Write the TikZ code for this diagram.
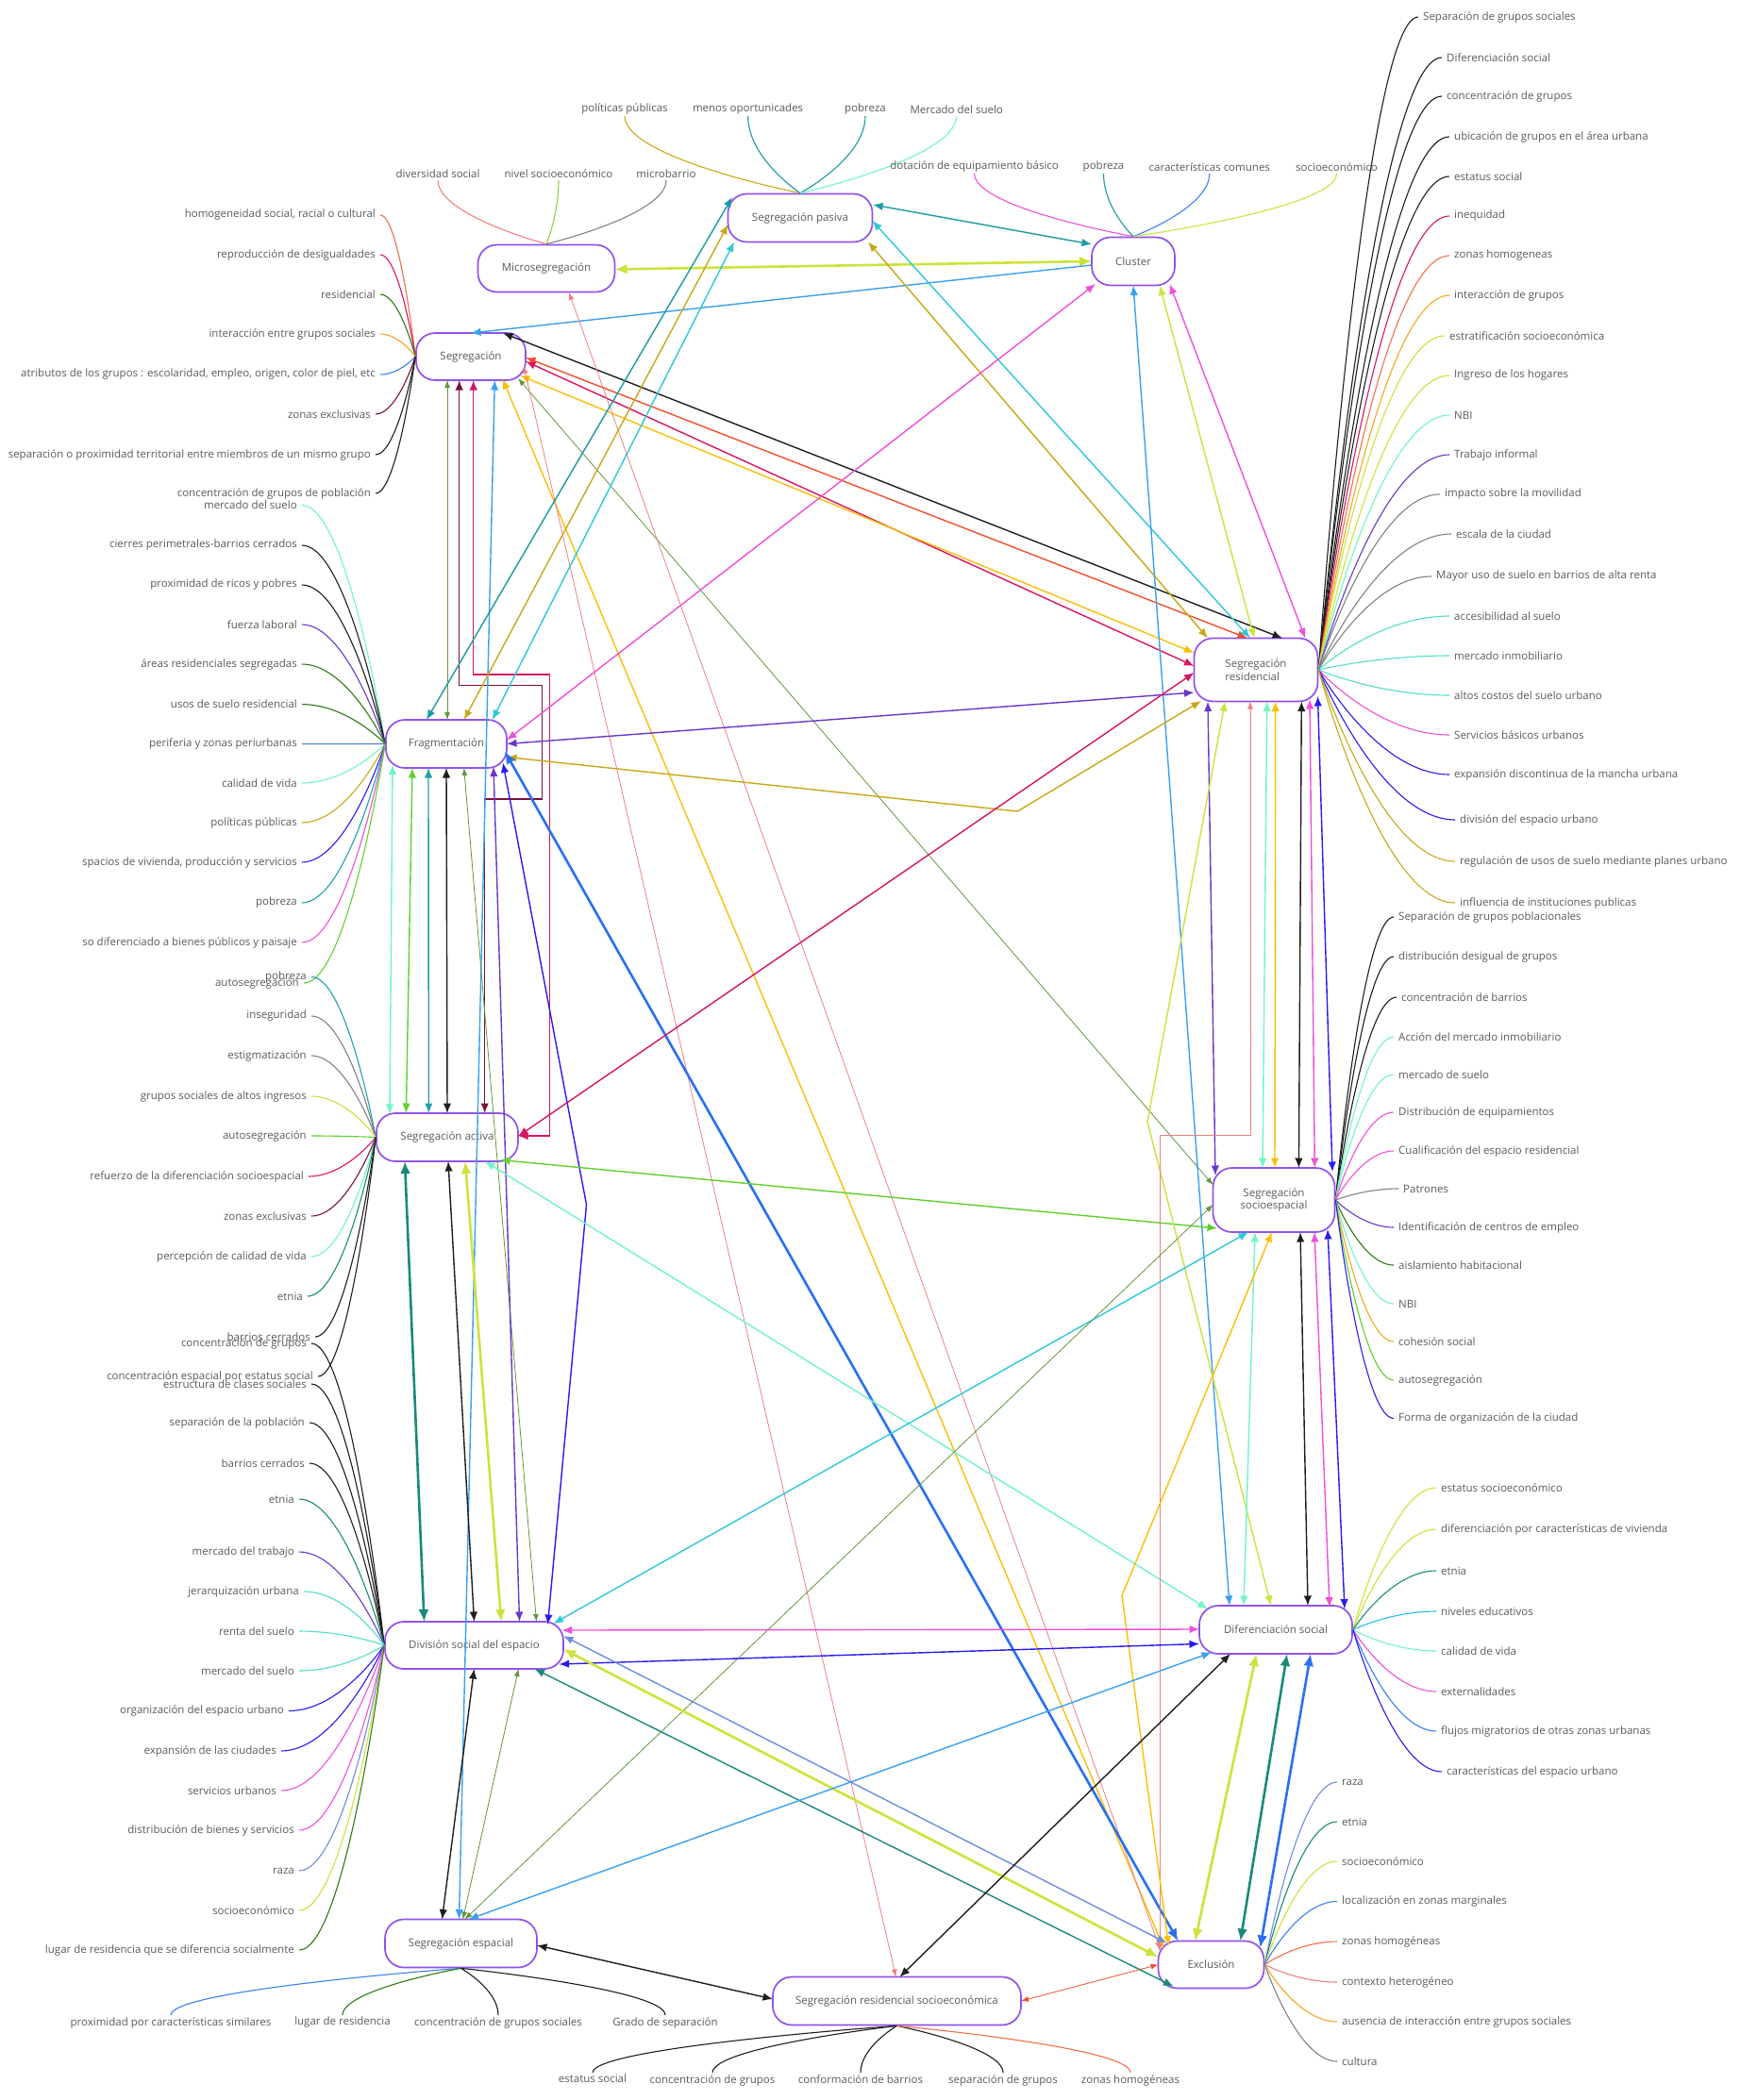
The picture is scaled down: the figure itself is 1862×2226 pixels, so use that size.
\documentclass[tikz,border=0pt]{standalone}
\usepackage{fontspec}
\setmainfont{Open Sans}
\usetikzlibrary{arrows.meta,calc}
\definecolor{nodeb}{RGB}{145,82,235}
\definecolor{txt}{RGB}{90,90,90}
\definecolor{cTeal}{RGB}{26,155,160}
\definecolor{cYG}{RGB}{206,226,60}
\definecolor{cLBlue}{RGB}{58,160,240}
\definecolor{cBlk}{RGB}{30,30,30}
\definecolor{cOR}{RGB}{240,80,45}
\definecolor{cCrim}{RGB}{214,20,100}
\definecolor{cYel}{RGB}{248,192,10}
\definecolor{cOlive}{RGB}{100,150,60}
\definecolor{cMaroon}{RGB}{122,16,56}
\definecolor{cGold}{RGB}{200,168,24}
\definecolor{cCyan}{RGB}{46,200,216}
\definecolor{cMag}{RGB}{240,80,216}
\definecolor{cPurp}{RGB}{106,56,200}
\definecolor{cBlue}{RGB}{42,112,240}
\definecolor{cAqua}{RGB}{112,245,200}
\definecolor{cGreen}{RGB}{96,208,48}
\definecolor{cTeal2}{RGB}{32,160,176}
\definecolor{cBV}{RGB}{42,26,240}
\definecolor{cDTeal}{RGB}{26,138,120}
\definecolor{cSlate}{RGB}{112,140,220}
\definecolor{cSalmon}{RGB}{240,128,128}
\definecolor{cAmber}{RGB}{245,166,35}
\definecolor{cDGreen}{RGB}{46,122,18}
\definecolor{cGray}{RGB}{130,130,130}
\definecolor{cTurq}{RGB}{80,224,200}
\definecolor{cOrange}{RGB}{240,112,72}
\definecolor{cLGreen}{RGB}{144,208,80}
\definecolor{cBlue2}{RGB}{58,128,240}
\definecolor{cSteel}{RGB}{74,128,216}
\definecolor{cCyan2}{RGB}{32,192,240}
\newcommand{\leafh}[3]{\path (#3) -- coordinate[pos=0.55] (lfa) (#2); \draw[leafl,#1] (#2) .. controls (#2) and (lfa |- #3) .. (#3);}
\newcommand{\leafv}[3]{\path (#3) -- coordinate[pos=0.55] (lfa) (#2); \draw[leafl,#1] (#2) .. controls (#2) and (#3 |- lfa) .. (#3);}
\newcommand{\lfW}[6]{\node[lbl,anchor=east] (#1) at (#3,#4) {#6}; \leafh{#5}{#2}{#1.east}}
\newcommand{\lfE}[6]{\node[lbl,anchor=west] (#1) at (#3,#4) {#6}; \leafh{#5}{#2}{#1.west}}
\newcommand{\lfN}[6]{\node[lbl,anchor=south] (#1) at (#3,#4) {#6}; \leafv{#5}{#2}{#1.south}}
\newcommand{\lfS}[6]{\node[lbl,anchor=north] (#1) at (#3,#4) {#6}; \leafv{#5}{#2}{#1.north}}
\begin{document}
\begin{tikzpicture}[x=1pt,y=-1pt,
 every node/.style={font=\fontsize{11.5}{13.8}\selectfont, text=txt},
 box/.style={draw=nodeb, line width=1.7pt, rounded corners=20pt, fill=white, align=center, inner sep=0pt},
 lbl/.style={inner xsep=5pt, inner ysep=2pt},
 leafl/.style={line width=1.1pt},
 cn/.style={line width=1.4pt,>={Latex[length=10.5pt,width=8.5pt]},<->},
 cnk/.style={line width=2.6pt,>={Latex[length=13pt,width=11pt]},<->},
 cnt/.style={line width=0.8pt,>={Latex[length=8pt,width=6pt]},<->}]
\fill[white] (0,0) rectangle (1862,2226);
\useasboundingbox (0,0) rectangle (1862,2226);

% ---------------- main nodes
\node[box, minimum width=145pt, minimum height=50pt] (Micro) at (579,284.5) {Microsegregación};
\node[box, minimum width=153pt, minimum height=51pt] (Pasiva) at (848,231) {Segregación pasiva};
\node[box, minimum width=88pt, minimum height=51pt] (Cluster) at (1201,277) {Cluster};
\node[box, minimum width=116pt, minimum height=50pt] (Seg) at (499,378) {Segregación};
\node[box, minimum width=128pt, minimum height=51pt] (Frag) at (473,788.5) {Fragmentación};
\node[box, minimum width=131pt, minimum height=67pt, align=left] (SegRes) at (1331,710) {Segregación\\residencial};
\node[box, minimum width=150pt, minimum height=51pt] (Activa) at (474,1205.5) {Segregación activa};
\node[box, minimum width=129pt, minimum height=68pt] (Socio) at (1350,1272) {Segregación\\socioespacial};
\node[box, minimum width=189pt, minimum height=50pt] (Div) at (502.5,1744) {División social del espacio};
\node[box, minimum width=162pt, minimum height=51pt] (Dif) at (1352,1727.5) {Diferenciación social};
\node[box, minimum width=161pt, minimum height=51pt] (Esp) at (488.5,2060) {Segregación espacial};
\node[box, minimum width=112pt, minimum height=50pt] (Excl) at (1283.5,2082.5) {Exclusión};
\node[box, minimum width=263pt, minimum height=51pt] (SRS) at (950.5,2121) {Segregación residencial socioeconómica};

% ---------------- leaves: Segregación pasiva
\lfN{pa1}{Pasiva.north}{662}{123}{cGold}{políticas públicas}
\lfN{pa2}{Pasiva.north}{792.6}{123}{cTeal}{menos oportunicades}
\lfN{pa3}{Pasiva.north}{917}{123}{cTeal}{pobreza}
\lfN{pa4}{Pasiva.north}{1013.7}{123}{cAqua}{Mercado del suelo}
% Microsegregación
\lfN{mi1}{Micro.north}{464}{191}{cSalmon}{diversidad social}
\lfN{mi2}{Micro.north}{592}{191}{cLGreen}{nivel socioeconómico}
\lfN{mi3}{Micro.north}{706}{191}{cGray}{microbarrio}
% Cluster
\lfN{cl1}{Cluster.north}{1032.6}{184}{cMag}{dotación de equipamiento básico}
\lfN{cl2}{Cluster.north}{1169.5}{184}{cTeal}{pobreza}
\lfN{cl3}{Cluster.north}{1281.8}{184}{cBlue2}{características comunes}
\lfN{cl4}{Cluster.north}{1416.5}{184}{cYG}{socioeconómico}
% Segregación
\lfW{sg1}{Seg.west}{403}{228}{cOrange}{homogeneidad social, racial o cultural}
\lfW{sg2}{Seg.west}{403}{270}{cCrim}{reproducción de desigualdades}
\lfW{sg3}{Seg.west}{403}{312}{cDGreen}{residencial}
\lfW{sg4}{Seg.west}{403}{354}{cAmber}{interacción entre grupos sociales}
\lfW{sg5}{Seg.west}{403}{397}{cBlue2}{atributos de los grupos : escolaridad, empleo, origen, color de piel, etc}
\lfW{sg6}{Seg.west}{398}{439}{cMaroon}{zonas exclusivas}
\lfW{sg7}{Seg.west}{398}{482}{cBlk}{separación o proximidad territorial entre miembros de un mismo grupo}
\lfW{sg8}{Seg.west}{398}{523}{cBlk}{concentración de grupos de población}
% Fragmentación
\lfW{fr1}{Frag.west}{320}{535.5}{cAqua}{mercado del suelo}
\lfW{fr2}{Frag.west}{320}{578}{cBlk}{cierres perimetrales-barrios cerrados}
\lfW{fr3}{Frag.west}{320}{620}{cBlk}{proximidad de ricos y pobres}
\lfW{fr4}{Frag.west}{320}{662}{cPurp}{fuerza laboral}
\lfW{fr5}{Frag.west}{320}{704}{cDGreen}{áreas residenciales segregadas}
\lfW{fr6}{Frag.west}{320}{746.6}{cDGreen}{usos de suelo residencial}
\lfW{fr7}{Frag.west}{320}{788.6}{cSteel}{periferia y zonas periurbanas}
\lfW{fr8}{Frag.west}{320}{830}{cAqua}{calidad de vida}
\lfW{fr9}{Frag.west}{320}{872}{cGold}{políticas públicas}
\lfW{fr10}{Frag.west}{320}{914}{cBV}{spacios de vivienda, producción y servicios}
\lfW{fr11}{Frag.west}{320}{957}{cTeal2}{pobreza}
\lfW{fr12}{Frag.west}{320}{999}{cMag}{so diferenciado a bienes públicos y paisaje}
\lfW{fr13}{Frag.west}{322}{1042}{cGreen}{autosegregación}
% Segregación activa
\lfW{ac1}{Activa.west}{330}{1035.5}{cTeal2}{pobreza}
\lfW{ac2}{Activa.west}{330}{1077}{cGray}{inseguridad}
\lfW{ac3}{Activa.west}{330}{1119}{cGray}{estigmatización}
\lfW{ac4}{Activa.west}{330}{1162}{cYG}{grupos sociales de altos ingresos}
\lfW{ac5}{Activa.west}{330}{1204}{cGreen}{autosegregación}
\lfW{ac6}{Activa.west}{327}{1247}{cCrim}{refuerzo de la diferenciación socioespacial}
\lfW{ac7}{Activa.west}{330}{1289}{cMaroon}{zonas exclusivas}
\lfW{ac8}{Activa.west}{330}{1332}{cAqua}{percepción de calidad de vida}
\lfW{ac9}{Activa.west}{326}{1374}{cDTeal}{etnia}
\lfW{ac10}{Activa.west}{334}{1417}{cBlk}{barrios cerrados}
\lfW{ac11}{Activa.west}{337}{1459}{cBlk}{concentración espacial por estatus social}
% División social del espacio
\lfW{dv1}{Div.west}{330}{1424}{cBlk}{concentración de grupos}
\lfW{dv2}{Div.west}{330}{1467}{cBlk}{estructura de clases sociales}
\lfW{dv3}{Div.west}{328}{1508}{cBlk}{separación de la población}
\lfW{dv4}{Div.west}{328}{1551}{cBlk}{barrios cerrados}
\lfW{dv5}{Div.west}{317}{1589}{cDTeal}{etnia}
\lfW{dv6}{Div.west}{317}{1645}{cPurp}{mercado del trabajo}
\lfW{dv7}{Div.west}{322}{1687}{cTurq}{jerarquización urbana}
\lfW{dv8}{Div.west}{317}{1729}{cTurq}{renta del suelo}
\lfW{dv9}{Div.west}{317}{1771}{cTurq}{mercado del suelo}
\lfW{dv10}{Div.west}{306}{1813.5}{cBV}{organización del espacio urbano}
\lfW{dv11}{Div.west}{298}{1856}{cBV}{expansión de las ciudades}
\lfW{dv12}{Div.west}{298}{1898}{cMag}{servicios urbanos}
\lfW{dv13}{Div.west}{317}{1940}{cMag}{distribución de bienes y servicios}
\lfW{dv14}{Div.west}{317}{1983}{cSlate}{raza}
\lfW{dv15}{Div.west}{317}{2025}{cYG}{socioeconómico}
\lfW{dv16}{Div.west}{317}{2067}{cDGreen}{lugar de residencia que se diferencia socialmente}
% Segregación espacial
\lfS{es1}{Esp.south}{181}{2136}{cBlue2}{proximidad por características similares}
\lfS{es2}{Esp.south}{363}{2136}{cDGreen}{lugar de residencia}
\lfS{es3}{Esp.south}{528}{2136}{cBlk}{concentración de grupos sociales}
\lfS{es4}{Esp.south}{705}{2136}{cBlk}{Grado de separación}
% Segregación residencial socioeconómica
\lfS{sr1}{SRS.south}{628}{2197}{cBlk}{estatus social}
\lfS{sr2}{SRS.south}{755}{2197}{cBlk}{concentración de grupos}
\lfS{sr3}{SRS.south}{912}{2197}{cBlk}{conformación de barrios}
\lfS{sr4}{SRS.south}{1063}{2197}{cBlk}{separación de grupos}
\lfS{sr5}{SRS.south}{1198}{2197}{cOrange}{zonas homogéneas}
% Segregación residencial
\lfE{rs1}{SegRes.east}{1503}{18}{cBlk}{Separación de grupos sociales}
\lfE{rs2}{SegRes.east}{1528}{61}{cBlk}{Diferenciación social}
\lfE{rs3}{SegRes.east}{1528}{102}{cBlk}{concentración de grupos}
\lfE{rs4}{SegRes.east}{1536}{145}{cBlk}{ubicación de grupos en el área urbana}
\lfE{rs5}{SegRes.east}{1536}{187}{cBlk}{estatus social}
\lfE{rs6}{SegRes.east}{1536}{229}{cCrim}{inequidad}
\lfE{rs7}{SegRes.east}{1536}{271}{cOrange}{zonas homogeneas}
\lfE{rs8}{SegRes.east}{1536}{313}{cAmber}{interacción de grupos}
\lfE{rs9}{SegRes.east}{1531}{356}{cYG}{estratificación socioeconómica}
\lfE{rs10}{SegRes.east}{1536}{398}{cYG}{Ingreso de los hogares}
\lfE{rs11}{SegRes.east}{1536}{440}{cAqua}{NBI}
\lfE{rs12}{SegRes.east}{1536}{482}{cPurp}{Trabajo informal}
\lfE{rs13}{SegRes.east}{1526}{524}{cGray}{impacto sobre la movilidad}
\lfE{rs14}{SegRes.east}{1538}{566}{cGray}{escala de la ciudad}
\lfE{rs15}{SegRes.east}{1517}{611}{cGray}{Mayor uso de suelo en barrios de alta renta}
\lfE{rs16}{SegRes.east}{1536}{653}{cTurq}{accesibilidad al suelo}
\lfE{rs17}{SegRes.east}{1536}{695}{cTurq}{mercado inmobiliario}
\lfE{rs18}{SegRes.east}{1536}{737}{cTurq}{altos costos del suelo urbano}
\lfE{rs19}{SegRes.east}{1536}{779}{cMag}{Servicios básicos urbanos}
\lfE{rs20}{SegRes.east}{1536}{821}{cBV}{expansión discontinua de la mancha urbana}
\lfE{rs21}{SegRes.east}{1542}{869}{cBV}{división del espacio urbano}
\lfE{rs22}{SegRes.east}{1542}{913}{cGold}{regulación de usos de suelo mediante planes urbano}
\lfE{rs23}{SegRes.east}{1542}{957}{cGold}{influencia de instituciones publicas}
% Segregación socioespacial
\lfE{so1}{Socio.east}{1477}{972}{cBlk}{Separación de grupos poblacionales}
\lfE{so2}{Socio.east}{1477}{1014}{cBlk}{distribución desigual de grupos}
\lfE{so3}{Socio.east}{1480}{1057}{cBlk}{concentración de barrios}
\lfE{so4}{Socio.east}{1477}{1099}{cAqua}{Acción del mercado inmobiliario}
\lfE{so5}{Socio.east}{1477}{1139}{cAqua}{mercado de suelo}
\lfE{so6}{Socio.east}{1477}{1179}{cMag}{Distribución de equipamientos}
\lfE{so7}{Socio.east}{1477}{1220}{cMag}{Cualificación del espacio residencial}
\lfE{so8}{Socio.east}{1482}{1260}{cGray}{Patrones}
\lfE{so9}{Socio.east}{1477}{1301}{cPurp}{Identificación de centros de empleo}
\lfE{so10}{Socio.east}{1477}{1341}{cDGreen}{aislamiento habitacional}
\lfE{so11}{Socio.east}{1477}{1382}{cAqua}{NBI}
\lfE{so12}{Socio.east}{1477}{1422}{cAmber}{cohesión social}
\lfE{so13}{Socio.east}{1477}{1463}{cGreen}{autosegregación}
\lfE{so14}{Socio.east}{1477}{1503.5}{cBV}{Forma de organización de la ciudad}
% Diferenciación social
\lfE{df1}{Dif.east}{1522}{1577}{cYG}{estatus socioeconómico}
\lfE{df2}{Dif.east}{1522}{1621}{cYG}{diferenciación por características de vivienda}
\lfE{df3}{Dif.east}{1522}{1665}{cDTeal}{etnia}
\lfE{df4}{Dif.east}{1522}{1708}{cCyan2}{niveles educativos}
\lfE{df5}{Dif.east}{1522}{1750}{cAqua}{calidad de vida}
\lfE{df6}{Dif.east}{1522}{1793}{cMag}{externalidades}
\lfE{df7}{Dif.east}{1522}{1835}{cBlue2}{flujos migratorios de otras zonas urbanas}
\lfE{df8}{Dif.east}{1528}{1878}{cBV}{características del espacio urbano}
% Exclusión
\lfE{ex1}{Excl.east}{1417}{1889}{cSlate}{raza}
\lfE{ex2}{Excl.east}{1417}{1931}{cDTeal}{etnia}
\lfE{ex3}{Excl.east}{1417}{1973}{cYG}{socioeconómico}
\lfE{ex4}{Excl.east}{1417}{2015.5}{cBlue2}{localización en zonas marginales}
\lfE{ex5}{Excl.east}{1417}{2058}{cOrange}{zonas homogéneas}
\lfE{ex6}{Excl.east}{1417}{2101}{cSalmon}{contexto heterogéneo}
\lfE{ex7}{Excl.east}{1417}{2143}{cAmber}{ausencia de interacción entre grupos sociales}
\lfE{ex8}{Excl.east}{1417}{2185}{cGray}{cultura}

% ---------------- connectors
\draw[cn,cTeal] ([shift={(77,-14)}]Pasiva.center) -- ([shift={(-44,-18)}]Cluster.center);
\draw[cnk,cYG] ([shift={(72.5,1)}]Micro.center) -- ([shift={(-44,0)}]Cluster.center);
\draw[cn,->,cLBlue] ([shift={(-44,4)}]Cluster.center) -- ([shift={(0,-25)}]Seg.center);
\draw[cn,cBlk] ([shift={(34,-25)}]Seg.center) -- ([shift={(28,-33.5)}]SegRes.center);
\draw[cn,cOR] ([shift={(58,1)}]Seg.center) -- ([shift={(-9,-33.5)}]SegRes.center);
\draw[cn,cCrim] ([shift={(58,5)}]Seg.center) -- ([shift={(-65.5,-4)}]SegRes.center);
\draw[cn,cYel] ([shift={(52,20)}]Seg.center) -- ([shift={(-65.5,-18)}]SegRes.center);
\draw[cnt,cOlive] ([shift={(-25,25)}]Seg.center) -- ([shift={(1,-25.5)}]Frag.center);
\draw[cn,cMaroon] ([shift={(-12.3,25)}]Seg.center) -- (486.7,726.7) -- (574.3,726.7) -- (574.3,847) -- (513.7,847) -- ([shift={(39.7,-25.5)}]Activa.center);
\draw[cn,cCrim] ([shift={(2.7,25)}]Seg.center) -- (501.7,715) -- (582.7,715) -- (582.7,1204) -- ([shift={(75,-1.5)}]Activa.center);
\draw[cn,cLBlue] ([shift={(25.3,25)}]Seg.center) -- ([shift={(-2,-25.5)}]Esp.center);
\draw[cn,cYel] ([shift={(33.7,24)}]Seg.center) -- ([shift={(-50,-17)}]Excl.center);
\draw[cnt,cOlive] ([shift={(50,23)}]Seg.center) -- ([shift={(-64.5,-16)}]Socio.center);
\draw[cnt,cSalmon] ([shift={(24,25.5)}]Micro.center) -- ([shift={(-54,-16)}]Excl.center);
\draw[cnt,cSalmon] ([shift={(56,10)}]Seg.center) -- ([shift={(-1,-25.5)}]SRS.center);
\draw[cn,cTeal] ([shift={(-72,-22)}]Pasiva.center) -- ([shift={(-21,-25.5)}]Frag.center);
\draw[cn,cGold] ([shift={(-76.5,7)}]Pasiva.center) -- ([shift={(18.7,-25.5)}]Frag.center);
\draw[cn,cCyan] ([shift={(-70,25.5)}]Pasiva.center) -- ([shift={(48.7,-25.5)}]Frag.center);
\draw[cn,cGold] ([shift={(72,25.5)}]Pasiva.center) -- ([shift={(-51,-33.5)}]SegRes.center);
\draw[cn,cCyan] ([shift={(76.5,3)}]Pasiva.center) -- ([shift={(-6,-33.5)}]SegRes.center);
\draw[cn,cYG] ([shift={(28,25.5)}]Cluster.center) -- ([shift={(-1.7,-33.5)}]SegRes.center);
\draw[cn,cMag] ([shift={(38.6,24)}]Cluster.center) -- ([shift={(52.3,-33.5)}]SegRes.center);
\draw[cn,cMag] ([shift={(-40,24)}]Cluster.center) -- ([shift={(64,-4)}]Frag.center);
\draw[cn,cLBlue] ([shift={(0,25.5)}]Cluster.center) -- ([shift={(-49,-25.5)}]Dif.center);
\draw[cn,cPurp] ([shift={(64,0)}]Frag.center) -- ([shift={(-65.5,24)}]SegRes.center);
\draw[cn,cGold] ([shift={(64,14)}]Frag.center) -- (1078.4,860) -- ([shift={(-58,33)}]SegRes.center);
\draw[cnk,cBlue] ([shift={(62,8)}]Frag.center) -- ([shift={(-35,-25)}]Excl.center);
\draw[cn,cAqua] ([shift={(-57,22)}]Frag.center) -- ([shift={(-61,-24.5)}]Activa.center);
\draw[cn,cGreen] ([shift={(-36,25.5)}]Frag.center) -- ([shift={(-43.6,-25.5)}]Activa.center);
\draw[cn,cTeal2] ([shift={(-19,25.5)}]Frag.center) -- ([shift={(-19.7,-25.5)}]Activa.center);
\draw[cn,cBlk] ([shift={(0,25.5)}]Frag.center) -- ([shift={(0,-25.5)}]Activa.center);
\draw[cnt,cOlive] ([shift={(18.7,25.5)}]Frag.center) -- ([shift={(66,-25)}]Div.center);
\draw[cn,cPurp] ([shift={(50,24)}]Frag.center) -- ([shift={(48,-25)}]Div.center);
\draw[cn,cBV] ([shift={(60,20)}]Frag.center) -- (621.5,1277) -- ([shift={(78,-22)}]Div.center);
\draw[cnk,cDTeal] ([shift={(-45,25.5)}]Activa.center) -- ([shift={(-53,-25)}]Div.center);
\draw[cn,cBlk] ([shift={(1,25.5)}]Activa.center) -- ([shift={(0,-25)}]Div.center);
\draw[cnk,cYG] ([shift={(19,25.5)}]Activa.center) -- ([shift={(28.7,-25)}]Div.center);
\draw[cn,cGreen] ([shift={(56,24)}]Activa.center) -- ([shift={(-60,30)}]Socio.center);
\draw[cn,cAqua] ([shift={(40,25.5)}]Activa.center) -- ([shift={(-72,-22)}]Dif.center);
\draw[cn,cCrim] ([shift={(-65.5,3)}]SegRes.center) -- ([shift={(75,-1)}]Activa.center);
\draw[cn,cPurp] ([shift={(-51,33.5)}]SegRes.center) -- ([shift={(-62,-26)}]Socio.center);
\draw[cn,cYG] ([shift={(-32.7,33.5)}]SegRes.center) -- (1216,1189) -- ([shift={(-5,-25.5)}]Dif.center);
\draw[cnt,cSalmon] ([shift={(-6,33.5)}]SegRes.center) -- (1325,1203.3) -- (1228.9,1203.3) -- ([shift={(-54.6,-14)}]Excl.center);
\draw[cn,cAqua] ([shift={(11.7,33.5)}]SegRes.center) -- ([shift={(-12,-34)}]Socio.center);
\draw[cn,cYel] ([shift={(20.7,33.5)}]SegRes.center) -- ([shift={(1,-34)}]Socio.center);
\draw[cn,cBlk] ([shift={(48.3,33.5)}]SegRes.center) -- ([shift={(26.4,-34)}]Socio.center);
\draw[cn,cMag] ([shift={(57,31)}]SegRes.center) -- ([shift={(43.3,-34)}]Socio.center);
\draw[cn,cBV] ([shift={(65.5,28)}]SegRes.center) -- ([shift={(62,-30)}]Socio.center);
\draw[cn,cAqua] ([shift={(-20,34)}]Socio.center) -- ([shift={(-34,-25.5)}]Dif.center);
\draw[cn,cBlk] ([shift={(28,34)}]Socio.center) -- ([shift={(34,-25.5)}]Dif.center);
\draw[cn,cMag] ([shift={(43,34)}]Socio.center) -- ([shift={(57,-24)}]Dif.center);
\draw[cn,cBV] ([shift={(57,31)}]Socio.center) -- ([shift={(73,-22)}]Dif.center);
\draw[cn,cYel] ([shift={(-2,34)}]Socio.center) -- (1189,1691.4) -- ([shift={(-45,-20)}]Excl.center);
\draw[cn,cCyan] ([shift={(-27,34)}]Socio.center) -- ([shift={(84,-23)}]Div.center);
\draw[cnt,cOlive] ([shift={(-64.5,5)}]Socio.center) -- ([shift={(4,-25.5)}]Esp.center);
\draw[cn,cMag] ([shift={(93,-16)}]Div.center) -- ([shift={(-81,-0.5)}]Dif.center);
\draw[cn,cBV] ([shift={(90,20)}]Div.center) -- ([shift={(-81,15)}]Dif.center);
\draw[cn,cSlate] ([shift={(94.5,-10)}]Div.center) -- ([shift={(-47,-23)}]Excl.center);
\draw[cnk,cYG] ([shift={(94.5,4)}]Div.center) -- ([shift={(-56,-8)}]Excl.center);
\draw[cn,cDTeal] ([shift={(64,25)}]Div.center) -- ([shift={(-40,23)}]Excl.center);
\draw[cn,cBlk] ([shift={(0,25)}]Div.center) -- ([shift={(-20,-25.5)}]Esp.center);
\draw[cnt,cOlive] ([shift={(47,25)}]Div.center) -- ([shift={(2,-25.5)}]Esp.center);
\draw[cn,cLBlue] ([shift={(8,-25.5)}]Esp.center) -- ([shift={(-68,24)}]Dif.center);
\draw[cn,cBlk] ([shift={(80.5,2)}]Esp.center) -- ([shift={(-131.5,-2)}]SRS.center);
\draw[cnt,cOR] ([shift={(-56,0)}]Excl.center) -- ([shift={(131.5,0)}]SRS.center);
\draw[cn,cBlk] ([shift={(-48,25.5)}]Dif.center) -- ([shift={(3,-25.5)}]SRS.center);
\draw[cnk,cYG] ([shift={(-20.5,25.5)}]Dif.center) -- ([shift={(-17,-25)}]Excl.center);
\draw[cnk,cDTeal] ([shift={(12,25.5)}]Dif.center) -- ([shift={(31,-25)}]Excl.center);
\draw[cnk,cBlue] ([shift={(37,25.5)}]Dif.center) -- ([shift={(52,-18)}]Excl.center);
\end{tikzpicture}
\end{document}
